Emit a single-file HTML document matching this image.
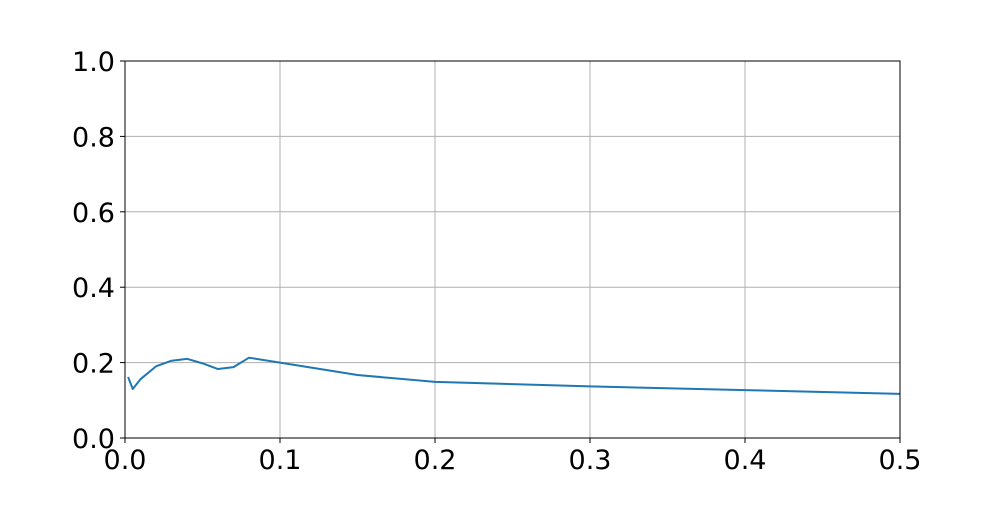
<!DOCTYPE html>
<html><head><meta charset="utf-8"><style>
body{margin:0;background:#fff}
svg text{font-family:"DejaVu Sans","Liberation Sans",sans-serif;font-size:27px;fill:#000}
</style></head><body>
<svg id="chart" width="1000" height="500" xmlns="http://www.w3.org/2000/svg"></svg>
<script>
const xValues=[0.002,0.005,0.01,0.02,0.03,0.04,0.05,0.06,0.07,0.08,0.1,0.15,0.2,0.3,0.4,0.5];
const yValues=[0.162,0.130,0.156,0.190,0.205,0.210,0.198,0.183,0.188,0.213,0.200,0.167,0.149,0.137,0.127,0.117];
const xTicks=[0,0.1,0.2,0.3,0.4,0.5];
const xTickLabels=["0.0","0.1","0.2","0.3","0.4","0.5"];
const yTicks=[0,0.2,0.4,0.6,0.8,1.0];
const yTickLabels=["0.0","0.2","0.4","0.6","0.8","1.0"];
const L=125,R=900,T=61,B=438;
const sx=v=>L+(v-0)/(0.5)*(R-L);
const sy=v=>B-(v-0)/1*(B-T);
const svg=document.getElementById('chart');
const NS="http://www.w3.org/2000/svg";
function mk(t,a){const e=document.createElementNS(NS,t);for(const k in a)e.setAttribute(k,a[k]);svg.appendChild(e);return e;}
xTicks.forEach((v,i)=>{
 const g=mk('line',{x1:sx(v),x2:sx(v),y1:T,y2:B,stroke:'#b0b0b0','stroke-width':1});
 
 
 const tk=mk('line',{x1:sx(v),x2:sx(v),y1:B,y2:B+5,stroke:'#000','stroke-width':1});
 
 
 const t=mk('text',{x:sx(v),y:B+31,'text-anchor':'middle'});t.textContent=xTickLabels[i];
 
 
});
yTicks.forEach((v,i)=>{
 const g=mk('line',{x1:L,x2:R,y1:sy(v),y2:sy(v),stroke:'#b0b0b0','stroke-width':1});
 
 
 const tk=mk('line',{x1:L-5,x2:L,y1:sy(v),y2:sy(v),stroke:'#000','stroke-width':1});
 
 
 const t=mk('text',{x:L-10,y:sy(v)+10,'text-anchor':'end'});t.textContent=yTickLabels[i];
 
 
});
const p=mk('polyline',{points:xValues.map((x,i)=>sx(x)+','+sy(yValues[i])).join(' '),fill:'none',stroke:'#1f77b4','stroke-width':2,'stroke-linejoin':'round'});


const f=mk('rect',{x:L,y:T,width:R-L,height:B-T,fill:'none',stroke:'#000','stroke-width':1});


</script>
</body></html>
